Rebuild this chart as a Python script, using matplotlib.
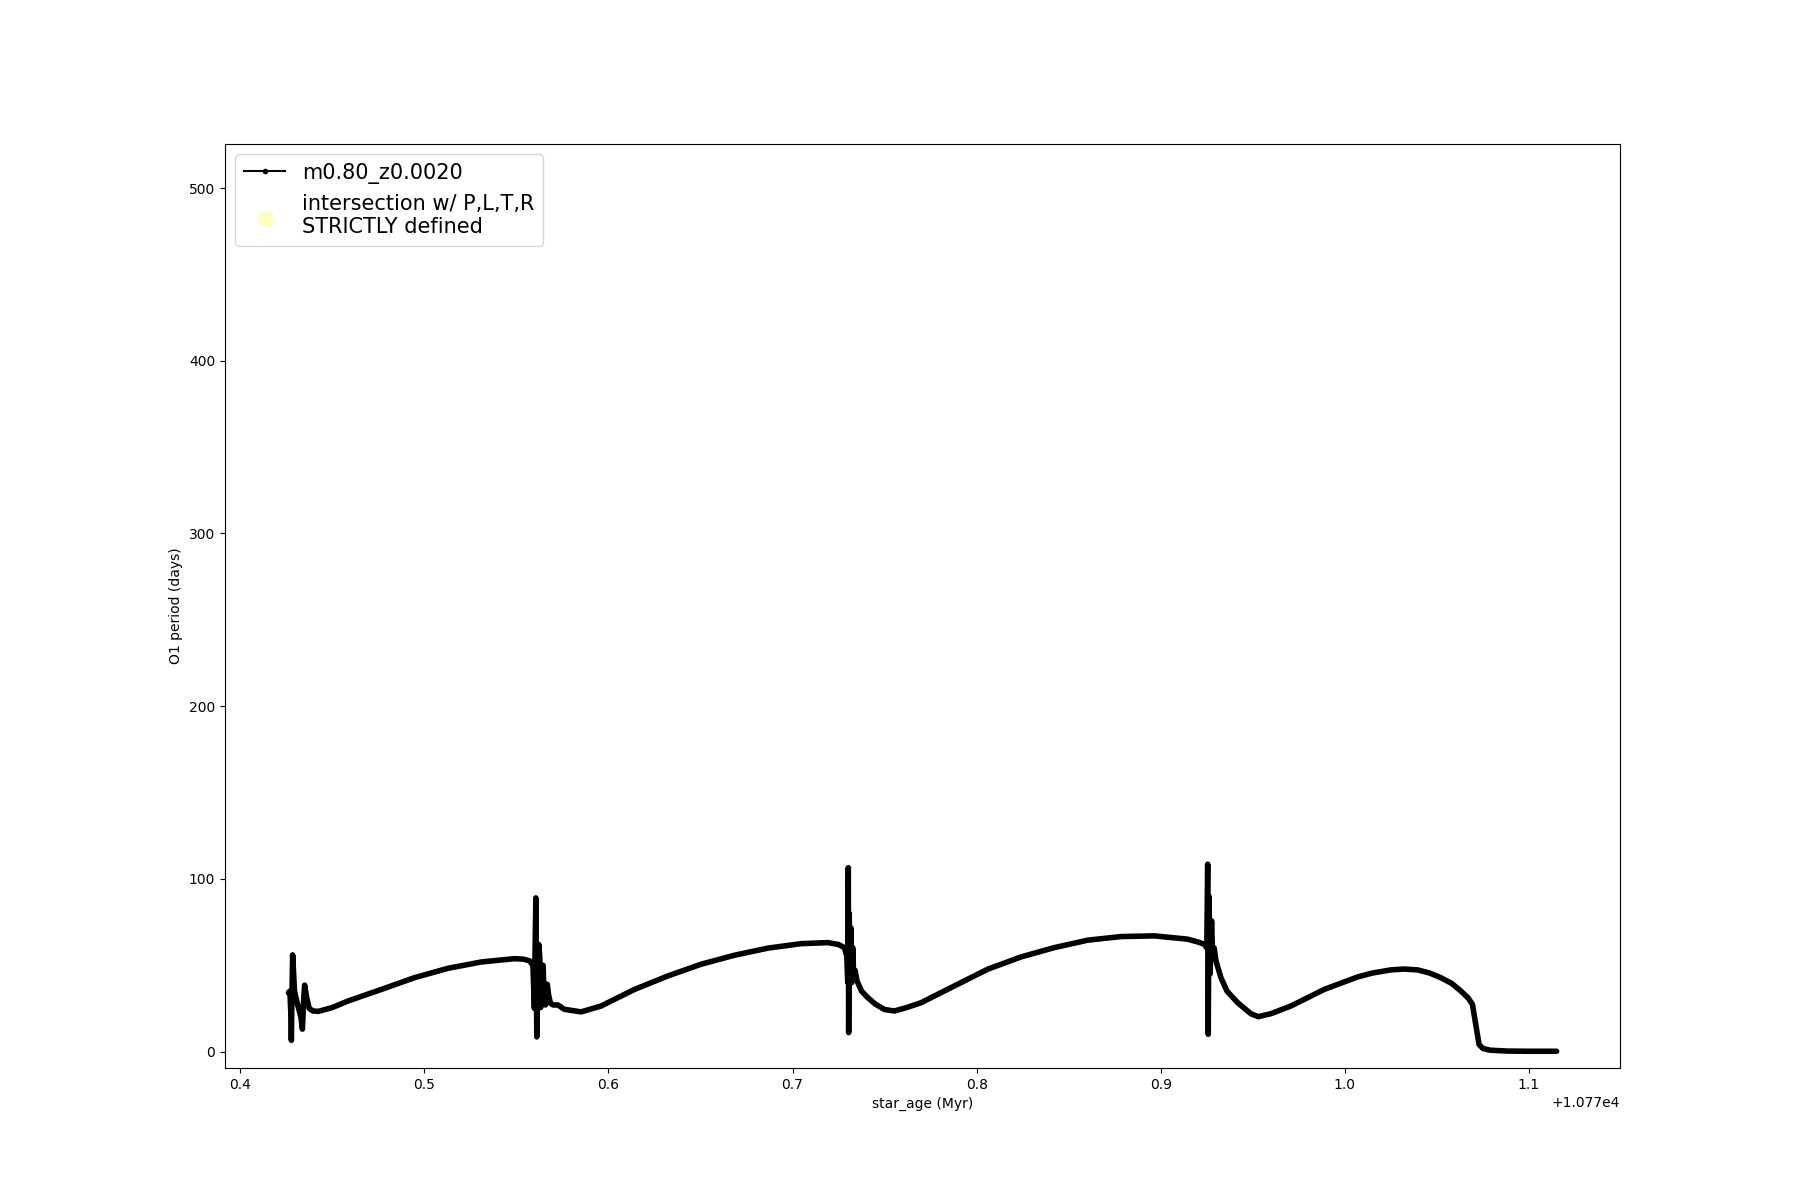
import matplotlib
matplotlib.use("Agg")
import matplotlib.pyplot as plt
from matplotlib.lines import Line2D

star_age = [
    10770.4262, 10770.4270, 10770.4276, 10770.4278, 10770.4281, 10770.4285, 10770.4289,
    10770.4295, 10770.4310, 10770.4330, 10770.4338, 10770.4345, 10770.4350, 10770.4360,
    10770.4375, 10770.4395, 10770.4425, 10770.4500, 10770.4586, 10770.4767, 10770.4947,
    10770.5128, 10770.5310, 10770.5490, 10770.5540, 10770.5572, 10770.5590, 10770.5598,
    10770.5602, 10770.5606, 10770.5609, 10770.5611, 10770.5615, 10770.5622, 10770.5627,
    10770.5632, 10770.5640, 10770.5645, 10770.5652, 10770.5658, 10770.5668, 10770.5675,
    10770.5685, 10770.5700, 10770.5726, 10770.5760, 10770.5852, 10770.5961, 10770.6015,
    10770.6142, 10770.6323, 10770.6504, 10770.6685, 10770.6866, 10770.7047, 10770.7192,
    10770.7250, 10770.7282, 10770.7295, 10770.7300, 10770.7303, 10770.7305, 10770.7308,
    10770.7312, 10770.7318, 10770.7322, 10770.7328, 10770.7332, 10770.7340, 10770.7350,
    10770.7375, 10770.7409, 10770.7450, 10770.7499, 10770.7553, 10770.7620, 10770.7698,
    10770.7752, 10770.7879, 10770.8060, 10770.8241, 10770.8422, 10770.8603, 10770.8784,
    10770.8965, 10770.9146, 10770.9200, 10770.9236, 10770.9250, 10770.9255, 10770.9258,
    10770.9262, 10770.9268, 10770.9276, 10770.9282, 10770.9290, 10770.9300, 10770.9327,
    10770.9360, 10770.9418, 10770.9490, 10770.9530, 10770.9600, 10770.9707, 10770.9888,
    10771.0069, 10771.0150, 10771.0250, 10771.0320, 10771.0395, 10771.0460, 10771.0521,
    10771.0580, 10771.0630, 10771.0670, 10771.0693, 10771.0711, 10771.0729, 10771.0750,
    10771.0790, 10771.0883, 10771.1000, 10771.1150,
]
o1_period = [
    34.0, 35.0, 20.0, 6.5, 30.0, 56.0, 48.0,
    35.0, 28.0, 20.0, 13.0, 30.0, 38.5, 32.0,
    25.0, 23.5, 23.3, 25.5, 29.3, 36.0, 42.8,
    48.2, 51.9, 53.8, 53.5, 52.5, 50.0, 25.0,
    60.0, 89.0, 40.0, 8.5, 45.0, 62.0, 55.0,
    25.5, 45.0, 50.0, 30.0, 27.0, 39.0, 33.0,
    28.0, 27.0, 27.0, 24.5, 23.0, 26.4, 29.3,
    36.0, 43.8, 50.6, 55.8, 59.9, 62.5, 63.1,
    62.0, 60.2, 55.0, 40.0, 106.5, 11.0, 80.0,
    45.0, 71.5, 40.0, 60.0, 42.0, 47.0, 41.0,
    35.0, 31.2, 27.5, 24.4, 23.5, 25.5, 28.3,
    31.2, 38.0, 47.7, 54.8, 60.2, 64.5, 66.6,
    67.0, 65.1, 63.5, 62.2, 60.0, 108.5, 10.0,
    90.0, 45.0, 75.7, 55.0, 60.0, 52.5, 42.8,
    35.0, 28.3, 21.9, 20.2, 22.0, 26.4, 36.0,
    43.2, 45.5, 47.3, 47.8, 47.3, 45.5, 42.8,
    39.5, 35.1, 31.0, 27.3, 15.7, 4.1, 1.8,
    0.8, 0.3, 0.2, 0.2,
]

# no intersection points in this track
inter_age = []
inter_period = []

track_label = "m0.80_z0.0020"
inter_label = "intersection w/ P,L,T,R\nSTRICTLY defined"

fig, ax = plt.subplots(figsize=(18, 12), dpi=100)

ax.plot(star_age, o1_period, color="k", lw=4.0,
        solid_joinstyle="round", solid_capstyle="round")
sc = ax.scatter(inter_age, inter_period, color="yellow", alpha=0.25, s=100,
                label=inter_label)

handle = Line2D([], [], color="k", marker=".", lw=1.5, label=track_label)
ax.legend(handles=[handle, sc], loc="upper left", fontsize=15)

ax.set_ylim(-9.5, 525.5)
ax.set_xlabel("star_age (Myr)")
ax.set_ylabel("O1 period (days)")

fig.savefig("out.png")
